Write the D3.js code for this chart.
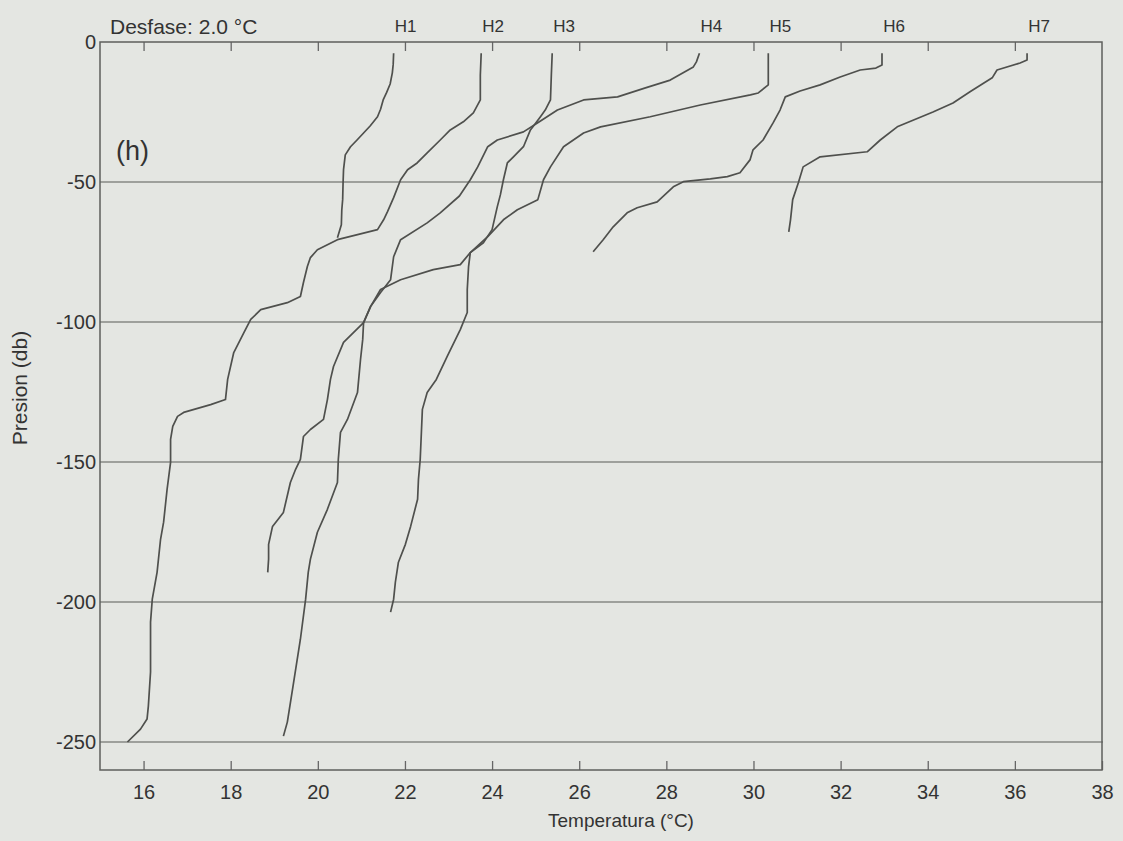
<!DOCTYPE html>
<html>
<head>
<meta charset="utf-8">
<script src="https://cdn.jsdelivr.net/npm/d3@7"></script>
<style>
  html, body { margin: 0; padding: 0; background: #e4e6e2; }
  svg { display: block; }
  text { font-family: "Liberation Sans", Arial, sans-serif; fill: #333; }
</style>
</head>
<body>
<svg id="chart" width="1123" height="841"></svg>
<script>
// Temperature profiles (pressure in db, temperature in °C).
// Each profile is drawn shifted by index * OFFSET so they do not overlap.
const OFFSET = 2.0;
const profileNames = ["H1", "H2", "H3", "H4", "H5", "H6", "H7"];

const h1Pres = [-4, -8, -11, -15, -18, -20.7, -24, -26.7, -30, -32.5, -35, -37.4, -40.3, -45.6, -50, -56.3, -60, -65.3, -69.9];
const h1Temp = [21.74, 21.73, 21.71, 21.66, 21.58, 21.50, 21.44, 21.37, 21.20, 21.05, 20.90, 20.75, 20.63, 20.59, 20.58, 20.57, 20.55, 20.54, 20.45];

const h2Pres = [-4, -11.8, -20.7, -25.3, -28.5, -31.4, -35, -39.6, -43.2, -45.6, -49.2, -55.6, -60.6, -63.5, -67, -68.5, -70.6, -74.2, -77, -80.2, -85.9, -90.9, -93.1, -95.6, -99.1, -103.9, -110.9, -120.5, -127.7, -129.5, -132.3, -133.7, -137.3, -141.9, -150.1, -159.8, -171.5, -177.6, -189.4, -199, -207.2, -225, -237.2, -241.8, -245.4, -250];
const h2Temp = [21.75, 21.73, 21.73, 21.57, 21.34, 21.04, 20.81, 20.51, 20.28, 20.06, 19.90, 19.74, 19.60, 19.51, 19.37, 18.98, 18.45, 17.99, 17.83, 17.76, 17.67, 17.60, 17.30, 16.69, 16.46, 16.30, 16.07, 15.93, 15.88, 15.54, 14.92, 14.78, 14.67, 14.62, 14.62, 14.54, 14.46, 14.39, 14.31, 14.20, 14.16, 14.16, 14.11, 14.08, 13.93, 13.63];

const h3Pres = [-4, -11.8, -20.7, -24.3, -26.7, -29.2, -31.4, -37.4, -41, -43.2, -49.2, -54.6, -58.8, -67, -71.7, -75.2, -80.2, -88.4, -96.6, -102.7, -112.3, -120.5, -125.2, -131.2, -138.4, -149.1, -156.2, -163.3, -173, -179.4, -185.8, -192.9, -199, -203.6];
const h3Temp = [21.38, 21.36, 21.34, 21.22, 21.11, 20.99, 20.88, 20.72, 20.49, 20.35, 20.26, 20.19, 20.12, 20.00, 19.80, 19.50, 19.46, 19.43, 19.43, 19.27, 18.97, 18.72, 18.51, 18.40, 18.38, 18.35, 18.31, 18.29, 18.13, 18.01, 17.85, 17.78, 17.74, 17.67];

const h4Pres = [-4, -7.1, -8.9, -13.6, -16.4, -19.6, -20.7, -24.3, -28.9, -32.1, -35, -37.4, -44.6, -49.2, -55, -61, -64.6, -70.6, -76.7, -84.9, -89.5, -94.5, -100.2, -107.3, -115.9, -120.5, -127.7, -134.8, -138.4, -140.9, -149.1, -152.6, -157.3, -168, -173, -179.4, -184.7, -189.4];
const h4Temp = [22.76, 22.69, 22.62, 22.09, 21.52, 20.88, 20.10, 19.50, 19.04, 18.72, 18.12, 17.90, 17.67, 17.50, 17.25, 16.81, 16.51, 15.90, 15.74, 15.67, 15.44, 15.21, 15.05, 14.59, 14.36, 14.29, 14.22, 14.13, 13.83, 13.67, 13.60, 13.49, 13.37, 13.21, 12.96, 12.87, 12.87, 12.85];

const h5Pres = [-4, -10, -15.3, -18.2, -18.9, -22.5, -26.7, -30.3, -32.5, -37.4, -44.6, -49.2, -56.3, -59.9, -63.5, -69.5, -75.2, -79.5, -81.3, -84.9, -88.4, -94.5, -100.2, -106.3, -113.4, -125.2, -134.8, -139.4, -149.1, -157.3, -166.9, -175.1, -184.7, -189.4, -199, -213.3, -231.1, -242.9, -247.9];
const h5Temp = [22.34, 22.34, 22.34, 22.11, 21.93, 20.78, 19.63, 18.49, 18.10, 17.64, 17.34, 17.18, 17.05, 16.58, 16.26, 15.90, 15.50, 15.27, 14.65, 13.90, 13.44, 13.21, 13.05, 13.03, 12.98, 12.91, 12.68, 12.52, 12.47, 12.45, 12.22, 11.99, 11.83, 11.78, 11.72, 11.60, 11.42, 11.30, 11.21];

const h6Pres = [-4, -8.2, -9.3, -10, -12.5, -15.3, -17.5, -19.6, -24.3, -28.9, -35, -38.5, -42.1, -46.7, -48.1, -48.9, -49.9, -51.7, -57.1, -59.2, -61, -66, -70.6, -74.9];
const h6Temp = [22.95, 22.95, 22.81, 22.45, 21.99, 21.53, 21.07, 20.73, 20.61, 20.45, 20.22, 19.99, 19.92, 19.69, 19.40, 19.01, 18.39, 18.16, 17.79, 17.33, 17.10, 16.78, 16.55, 16.32];

const h7Pres = [-4, -6.4, -7.5, -10, -12.8, -17.8, -21.8, -25, -30.3, -35, -39.2, -41, -44.6, -50.3, -56.3, -63.5, -67.8];
const h7Temp = [24.28, 24.28, 24.12, 23.59, 23.48, 22.97, 22.58, 22.12, 21.30, 20.91, 20.61, 19.53, 19.14, 19.03, 18.90, 18.85, 18.81];

const xTicks = [16, 18, 20, 22, 24, 26, 28, 30, 32, 34, 36, 38];
const yTicks = [0, -50, -100, -150, -200, -250];

const presList = [h1Pres, h2Pres, h3Pres, h4Pres, h5Pres, h6Pres, h7Pres];
const tempList = [h1Temp, h2Temp, h3Temp, h4Temp, h5Temp, h6Temp, h7Temp];

const profiles = profileNames.map((name, i) => ({
  name,
  shift: i * OFFSET,
  points: presList[i].map((p, j) => ({ p, t: tempList[i][j] }))
}));

const svg = d3.select("#chart");
const plotLeft = 100, plotRight = 1102, plotTop = 42, plotBottom = 770;

svg.append("rect").attr("width", 1123).attr("height", 841).attr("fill", "#e4e6e2");

const x = d3.scaleLinear().domain([15, 38]).range([plotLeft, plotRight]);
const y = d3.scaleLinear().domain([0, -260]).range([plotTop, plotBottom]);

// horizontal grid lines
svg.append("g")
  .selectAll("line")
  .data(yTicks.filter(v => v !== 0))
  .join("line")
  .attr("x1", plotLeft).attr("x2", plotRight + 1)
  .attr("y1", d => y(d)).attr("y2", d => y(d))
  .attr("stroke", "#878885").attr("stroke-width", 1.3);

// bottom axis, ticks pointing inward
const gx = svg.append("g")
  .attr("transform", `translate(0,${plotBottom})`)
  .call(d3.axisBottom(x).tickValues(xTicks).tickSize(-9).tickPadding(15).tickFormat(d => String(d)));
gx.select(".domain").remove();
gx.selectAll("line").attr("stroke", "#666").attr("stroke-width", 1.3);
gx.selectAll("text").attr("font-size", 20).attr("fill", "#333");

// top axis, ticks only
const gt = svg.append("g")
  .attr("transform", `translate(0,${plotTop})`)
  .call(d3.axisTop(x).tickValues(xTicks.filter(v => v < 38)).tickSize(-9).tickFormat(""));
gt.select(".domain").remove();
gt.selectAll("line").attr("stroke", "#666").attr("stroke-width", 1.3);

// left axis labels
const gy = svg.append("g")
  .attr("transform", `translate(${plotLeft},0)`)
  .call(d3.axisLeft(y).tickValues(yTicks).tickSize(0).tickPadding(4).tickFormat(d => String(d)));
gy.select(".domain").remove();
gy.selectAll("text").attr("font-size", 20).attr("fill", "#333");

// frame
svg.append("rect")
  .attr("x", plotLeft).attr("y", plotTop)
  .attr("width", plotRight - plotLeft).attr("height", plotBottom - plotTop)
  .attr("fill", "none").attr("stroke", "#5e5f5c").attr("stroke-width", 1.5);

// profiles
const line = d3.line()
  .x(d => x(d.t))
  .y(d => y(d.p));

svg.append("g")
  .selectAll("path")
  .data(profiles)
  .join("path")
  .attr("d", pr => line(pr.points.map(d => ({ p: d.p, t: d.t + pr.shift }))))
  .attr("fill", "none")
  .attr("stroke", "#4f504d")
  .attr("stroke-width", 1.7)
  .attr("stroke-linejoin", "round");

// profile names above the top axis
svg.append("g")
  .selectAll("text")
  .data(profiles)
  .join("text")
  .attr("x", pr => x(pr.points[0].t + pr.shift) + 12)
  .attr("y", 32)
  .attr("text-anchor", "middle")
  .attr("font-size", 17)
  .text(pr => pr.name);

svg.append("text")
  .attr("x", 110).attr("y", 34)
  .attr("font-size", 21)
  .text(`Desfase: ${OFFSET.toFixed(1)} °C`);

svg.append("text")
  .attr("x", 116).attr("y", 160)
  .attr("font-size", 27)
  .text("(h)");

svg.append("text")
  .attr("x", (plotLeft + plotRight) / 2 + 20).attr("y", 827)
  .attr("text-anchor", "middle")
  .attr("font-size", 19)
  .text("Temperatura (°C)");

svg.append("text")
  .attr("transform", "translate(27,388) rotate(-90)")
  .attr("text-anchor", "middle")
  .attr("font-size", 21)
  .text("Presion (db)");
</script>
</body>
</html>
